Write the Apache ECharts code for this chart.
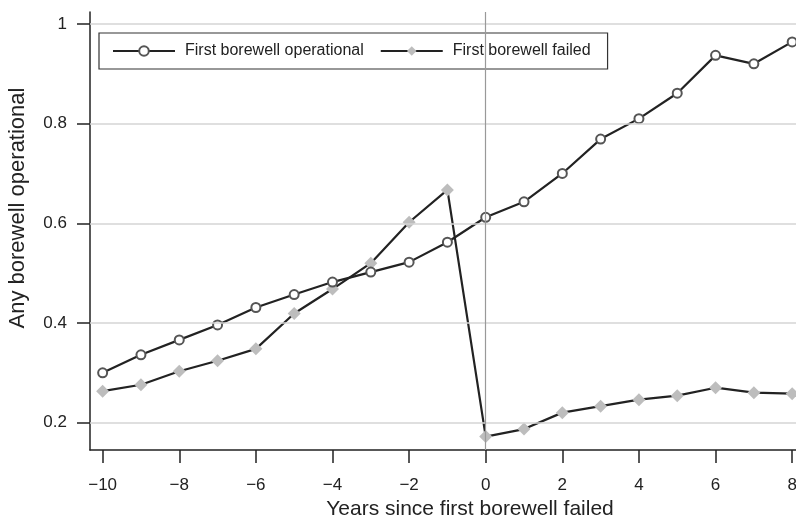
<!DOCTYPE html>
<html>
<head>
<meta charset="utf-8">
<script src="https://cdn.jsdelivr.net/npm/echarts@6/dist/echarts.min.js"></script>
<style>html,body{margin:0;padding:0;background:#fff}#c{width:796px;height:520px}</style>
</head>
<body>
<div id="c"></div>
<script>
var years = [-10,-9,-8,-7,-6,-5,-4,-3,-2,-1,0,1,2,3,4,5,6,7,8];
var operational = [0.300,0.336,0.366,0.396,0.431,0.457,0.482,0.502,0.522,0.562,0.612,0.643,0.700,0.769,0.810,0.861,0.937,0.920,0.964];
var failed = [0.263,0.276,0.303,0.324,0.348,0.419,0.468,0.520,0.602,0.667,0.172,0.187,0.220,0.233,0.246,0.254,0.270,0.260,0.258];
var xTicks = [-10,-8,-6,-4,-2,0,2,4,6,8];
var yTicks = [0.2,0.4,0.6,0.8,1];
var refX = [0];

var font = "'Liberation Sans', Arial, Helvetica, sans-serif";
var chart = echarts.init(document.getElementById('c'), null, {renderer:'canvas'});
function pairs(v){ return years.map(function(x,i){ return [x, v[i]]; }); }

var option = {
  animation: false,
  backgroundColor: '#fff',
  grid: {left: 90, right: 0, top: 12, bottom: 70, containLabel: false, outerBoundsMode: 'none'},
  legend: {
    left: 99, top: 33,
    orient: 'horizontal',
    borderColor: '#333', borderWidth: 1.2,
    padding: [10, 17, 10, 13],
    itemGap: 16,
    itemWidth: 62, itemHeight: 12,
    textStyle: {fontFamily: font, fontSize: 16, color: '#222', padding: [0, 0, 0, 5]},
    data: ['First borewell operational', 'First borewell failed']
  },
  xAxis: {
    type: 'value', min: -10.33, max: 8.1,
    name: 'Years since first borewell failed',
    nameLocation: 'middle', nameGap: 47,
    nameTextStyle: {fontFamily: font, fontSize: 21, color: '#222', padding: [0, 0, 0, 54]},
    axisLine: {show: true, onZero: false, lineStyle: {color: '#222', width: 1.5}},
    axisTick: {show: true, length: 13, lineStyle: {color: '#222', width: 1.5}, customValues: xTicks},
    axisLabel: {margin: 27, fontFamily: font, fontSize: 17, color: '#222', customValues: xTicks,
      formatter: function(v){ return String(v).replace('-', '\u2212'); }},
    splitLine: {show: false}
  },
  yAxis: {
    type: 'value', min: 0.145, max: 1.024,
    name: 'Any borewell operational',
    nameLocation: 'middle', nameGap: 61, nameRotate: 90,
    nameTextStyle: {fontFamily: font, fontSize: 22, color: '#222', padding: [0, 0, 0, 46]},
    axisLine: {show: true, onZero: false, lineStyle: {color: '#222', width: 1.5}},
    axisTick: {show: true, length: 13, lineStyle: {color: '#222', width: 1.5}, customValues: yTicks},
    axisLabel: {margin: 23, fontFamily: font, fontSize: 17, color: '#222', customValues: yTicks,
      formatter: function(v){ return String(Math.round(v*10)/10); }},
    splitLine: {show: false}
  },
  series: [
    {
      name: '_grid', type: 'line', data: [], z: 1, silent: true,
      markLine: {
        silent: true, symbol: 'none', animation: false,
        label: {show: false},
        data: yTicks.map(function(v){ return {yAxis: v, lineStyle: {color: '#d4d4d4', width: 1.5, type: 'solid'}}; })
          .concat(refX.map(function(v){ return {xAxis: v, lineStyle: {color: '#999', width: 1.2, type: 'solid'}}; }))
      }
    },
    {
      name: 'First borewell failed', type: 'line', data: pairs(failed), z: 3,
      symbol: 'diamond', symbolSize: 13, clip: false,
      lineStyle: {color: '#222', width: 2.2},
      itemStyle: {color: '#bdbdbd', borderWidth: 0}
    },
    {
      name: 'First borewell operational', type: 'line', data: pairs(operational), z: 4,
      symbol: 'emptyCircle', symbolSize: 9, clip: false,
      lineStyle: {color: '#222', width: 2.2},
      itemStyle: {color: '#555', borderColor: '#555', borderWidth: 1}
    }
  ]
};
chart.setOption(option);
</script>
</body>
</html>
